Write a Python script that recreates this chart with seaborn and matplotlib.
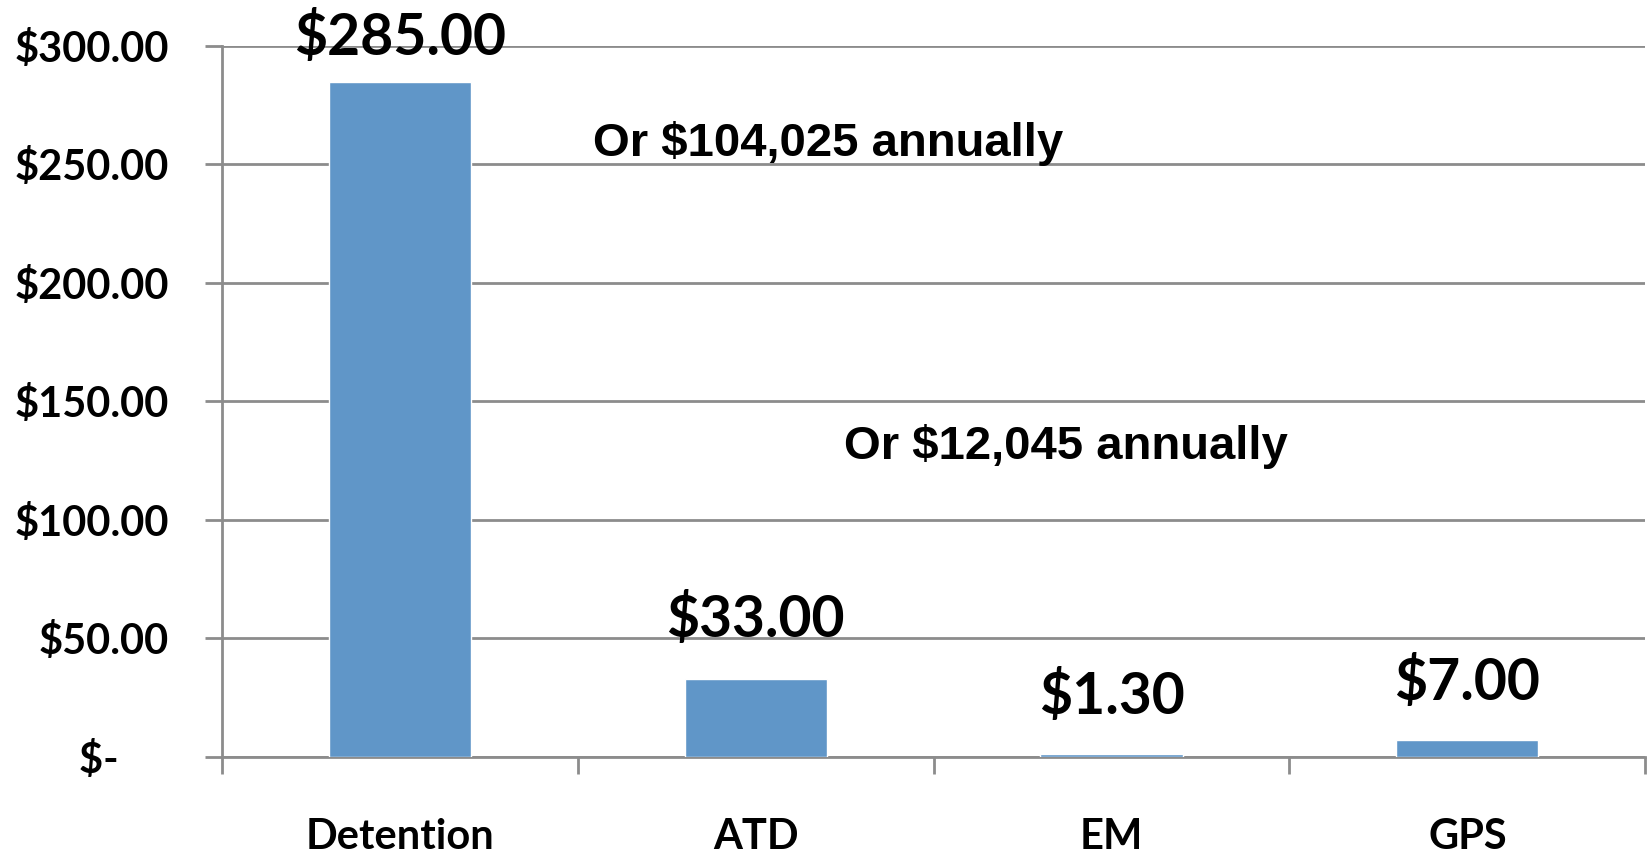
import matplotlib
matplotlib.use("Agg")
import matplotlib.pyplot as plt
import seaborn as sns
import pandas as pd

# daily cost per program
categories = ["Detention", "ATD", "EM", "GPS"]
daily_cost = [285.00, 33.00, 1.30, 7.00]
value_labels = ["$285.00", "$33.00", "$1.30", "$7.00"]
y_ticks = [0, 50, 100, 150, 200, 250, 300]
y_tick_labels = ["$-     ", "$50.00", "$100.00", "$150.00", "$200.00", "$250.00", "$300.00"]
notes = ["Or $104,025 annually", "Or $12,045 annually"]

BAR = "#6096c8"
GRID = "#8c8c8c"
label_font = ["Lato", "DejaVu Sans"]

sns.set_theme(style="white")
plt.rcParams["font.family"] = label_font
plt.rcParams["text.color"] = "black"
plt.rcParams["xtick.labelcolor"] = "black"
plt.rcParams["ytick.labelcolor"] = "black"

df = pd.DataFrame({"program": categories, "cost": daily_cost})

fig = plt.figure(figsize=(16.51, 8.56), dpi=100)
ax = fig.add_axes([0.1345, 0.1157, 0.862, 0.8306])

sns.barplot(data=df, x="program", y="cost", color=BAR, saturation=1,
            width=0.4, ax=ax, zorder=3)

ax.set_xlim(-0.5, 3.5)
ax.set_ylim(0, 300)
ax.set_xlabel("")
ax.set_ylabel("")

# horizontal gridlines
ax.set_yticks(y_ticks)
ax.set_yticklabels(y_tick_labels, fontsize=30, fontweight="bold", color="black")
ax.yaxis.grid(True, color=GRID, linewidth=2)
ax.tick_params(axis="y", length=12, width=2, color=GRID, pad=26, left=True)

# category labels at centres, boundary ticks as minor ticks
ax.set_xticks(range(len(categories)))
ax.set_xticklabels(categories, fontsize=30, fontweight="bold", color="black")
ax.set_xticks([i - 0.5 for i in range(len(categories) + 1)], minor=True)
ax.tick_params(axis="x", which="major", length=0, pad=44)
ax.tick_params(axis="x", which="minor", length=12, width=2, color=GRID,
               bottom=True)

for side in ["top", "right"]:
    ax.spines[side].set_visible(False)
for side in ["left", "bottom"]:
    ax.spines[side].set_color(GRID)
    ax.spines[side].set_linewidth(2)

# value labels (positions nudged by hand in the original)
label_y = [303.5, 58, 25.5, 31]
for i, (txt, y) in enumerate(zip(value_labels, label_y)):
    ax.text(i, y, txt, ha="center", va="center", fontsize=41,
            fontweight="bold", color="black", zorder=4, clip_on=False)

ax.text(1.204, 259, notes[0], ha="center", va="center", fontsize=34,
        fontweight="bold", color="black",
        family=["Liberation Sans", "DejaVu Sans"])
ax.text(1.871, 131, notes[1], ha="center", va="center", fontsize=34,
        fontweight="bold", color="black",
        family=["Liberation Sans", "DejaVu Sans"])

plt.savefig("out.png", dpi=100)
plt.close()
